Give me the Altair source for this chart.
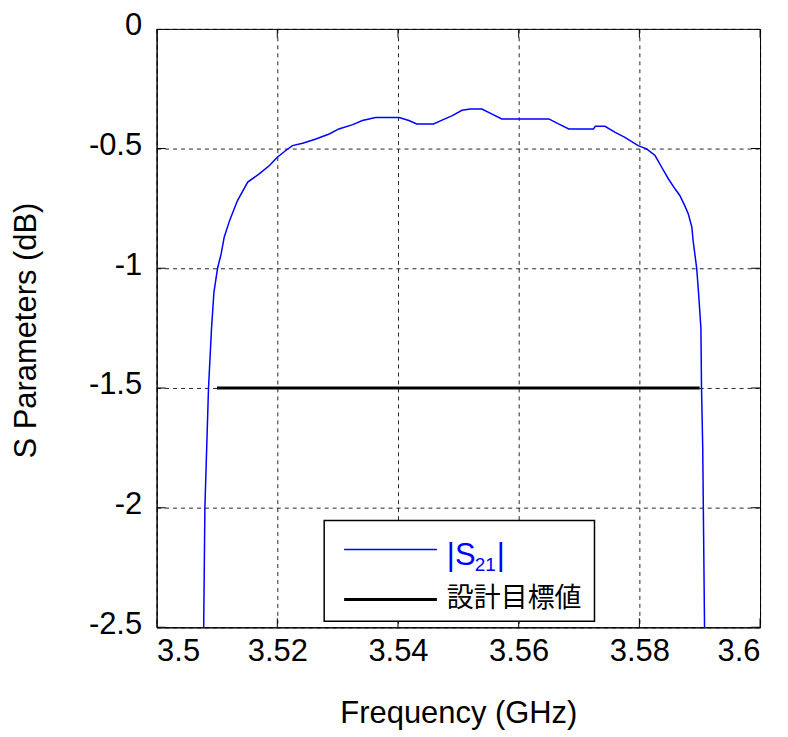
import altair as alt
import pandas as pd

# ---- data ----
freq = [3.5078, 3.5080, 3.5083, 3.5086, 3.5091, 3.5095, 3.5101, 3.5107, 3.5112,
        3.5121, 3.5134, 3.5151, 3.5170, 3.5187, 3.5200, 3.5214, 3.5225, 3.5242,
        3.5264, 3.5286, 3.5302, 3.5325, 3.5341, 3.5363, 3.5402, 3.5418, 3.5431,
        3.5459, 3.5473, 3.5490, 3.5506, 3.5520, 3.5539, 3.5556, 3.5572, 3.5650,
        3.5666, 3.5683, 3.5724, 3.5727, 3.5743, 3.5760, 3.5776, 3.5798, 3.5812,
        3.5826, 3.5837, 3.5848, 3.5859, 3.5867, 3.5875, 3.5881, 3.5887, 3.5889,
        3.5895, 3.5898, 3.5902, 3.5903, 3.5905, 3.5906, 3.5908]
s21 = [-2.5, -2.0, -1.75, -1.5, -1.25, -1.1, -1.0, -0.939, -0.87,
       -0.80, -0.717, -0.64, -0.606, -0.571, -0.536, -0.508, -0.4875, -0.478,
       -0.46, -0.439, -0.418, -0.40, -0.383, -0.37, -0.37, -0.383, -0.397,
       -0.397, -0.381, -0.3625, -0.34, -0.335, -0.335, -0.356, -0.376, -0.376,
       -0.397, -0.418, -0.418, -0.407, -0.407, -0.432, -0.453, -0.4875, -0.501,
       -0.529, -0.578, -0.626, -0.668, -0.696, -0.7375, -0.772, -0.828, -0.883,
       -1.0, -1.1, -1.25, -1.5, -1.75, -2.0, -2.5]
target_freq = [3.51, 3.59]
target_val = [-1.5, -1.5]

x_ticks = [3.5, 3.52, 3.54, 3.56, 3.58, 3.6]
y_ticks = [0, -0.5, -1, -1.5, -2, -2.5]

legend_labels = ["|S", "21", "|", "設計目標値"]

FONT = "Liberation Sans, Arial, sans-serif"
W, H = 605, 600

curve_df = pd.DataFrame({"freq": freq, "s": s21})
target_df = pd.DataFrame({"freq": target_freq, "s": target_val})

x_enc = alt.X("freq:Q",
              scale=alt.Scale(domain=[min(x_ticks), max(x_ticks)], nice=False, zero=False),
              axis=alt.Axis(values=x_ticks, labelExpr="datum.value + ''",
                            title="Frequency (GHz)", titleY=86, titleBaseline="middle",
                            labelPadding=9))
y_enc = alt.Y("s:Q",
              scale=alt.Scale(domain=[min(y_ticks), max(y_ticks)], nice=False, zero=False),
              axis=alt.Axis(values=y_ticks, labelExpr="datum.value + ''",
                            title="S Parameters (dB)", titleX=-130, titleY=302,
                            titleAngle=270, titleBaseline="middle", titleAlign="center",
                            labelPadding=15, labelOffset=-3))

curve = alt.Chart(curve_df).mark_line(color="#0000ff", strokeWidth=1.5, clip=True).encode(
    x=x_enc, y=y_enc)
target = alt.Chart(target_df).mark_line(color="black", strokeWidth=3, clip=True).encode(
    x=x_enc, y=y_enc)

# inside tick marks on all four sides
xt_df = pd.DataFrame({"freq": x_ticks * 2,
                      "s": [min(y_ticks)] * len(x_ticks) + [max(y_ticks)] * len(x_ticks)})
yt_df = pd.DataFrame({"s": y_ticks * 2,
                      "freq": [min(x_ticks)] * len(y_ticks) + [max(x_ticks)] * len(y_ticks)})
xticks = alt.Chart(xt_df).mark_tick(orient="vertical", size=18, thickness=1,
                                    color="black", opacity=1, clip=True).encode(x=x_enc, y=y_enc)
yticks = alt.Chart(yt_df).mark_tick(orient="horizontal", size=18, thickness=1,
                                    color="black", opacity=1, clip=True).encode(x=x_enc, y=y_enc)

# manual legend (box, sample lines, labels)
one = pd.DataFrame({"k": [0]})
box = alt.Chart(one).mark_rect(fill="white", stroke="black", strokeWidth=1.5).encode(
    x=alt.value(168), x2=alt.value(439), y=alt.value(493), y2=alt.value(594))
leg_blue = alt.Chart(one).mark_rule(color="#0000ff", strokeWidth=1.5).encode(
    x=alt.value(188), x2=alt.value(281), y=alt.value(522))
leg_black = alt.Chart(one).mark_rule(color="black", strokeWidth=3).encode(
    x=alt.value(188), x2=alt.value(281), y=alt.value(572))
t1 = alt.Chart(one).mark_text(text=legend_labels[0], font=FONT, fontSize=31, color="#0000ff",
                              align="left", baseline="alphabetic").encode(
    x=alt.value(291), y=alt.value(537))
t2 = alt.Chart(one).mark_text(text=legend_labels[1], font=FONT, fontSize=19, color="#0000ff",
                              align="left", baseline="alphabetic").encode(
    x=alt.value(319), y=alt.value(544))
t3 = alt.Chart(one).mark_text(text=legend_labels[2], font=FONT, fontSize=31, color="#0000ff",
                              align="left", baseline="alphabetic").encode(
    x=alt.value(341), y=alt.value(537))
t4 = alt.Chart(one).mark_text(text=legend_labels[3], font="Noto Sans CJK JP", fontSize=27,
                              color="black", align="left", baseline="middle").encode(
    x=alt.value(291), y=alt.value(572))

chart = alt.layer(curve, target, xticks, yticks, box, leg_blue, leg_black, t1, t2, t3, t4).properties(
    width=W, height=H,
    autosize=alt.AutoSizeParams(type="none"),
    padding={"left": 149, "top": 20, "right": 20, "bottom": 108},
    background="white",
).configure_view(
    stroke="black", strokeWidth=1
).configure_axis(
    grid=True, gridColor="black", gridDash=[4, 4], gridWidth=1, gridOpacity=0.85,
    domain=True, domainColor="black", domainWidth=1,
    ticks=False,
    labelFont=FONT, labelFontSize=31, labelColor="black",
    titleFont=FONT, titleFontSize=31, titleColor="black", titleFontWeight="normal",
)

chart.save("out.html", embed_options={"renderer": "svg", "actions": False})
